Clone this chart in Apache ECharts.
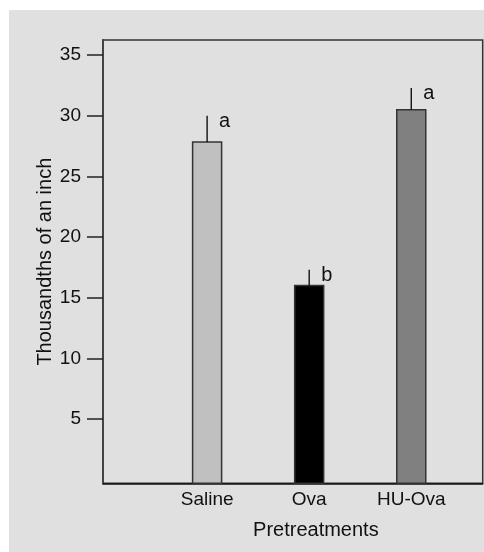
<!DOCTYPE html>
<html>
<head>
<meta charset="utf-8">
<script src="https://cdn.jsdelivr.net/npm/echarts@6/dist/echarts.min.js"></script>
<style>
html,body{margin:0;padding:0;background:#fff;}
#chart{width:484px;height:552px;}
</style>
</head>
<body>
<div id="chart"></div>
<script>
var categories = ['Saline', 'Ova', 'HU-Ova'];
var positions = [1, 2, 3];
var means = [27.85, 16.0, 30.5];
var errTops = [30.0, 17.3, 32.3];
var letters = ['a', 'b', 'a'];
var barColors = ['#c0c0c0', '#000000', '#808080'];
var yTicks = [5, 10, 15, 20, 25, 30, 35];

var FONT = '"Liberation Sans", Arial, sans-serif';
var Y_MIN = -0.3, Y_MAX = 36.25;
var BAR_W = 29;

var barData = positions.map(function (p, i) { return [p, means[i], i]; });
var errData = positions.map(function (p, i) { return [p, means[i], errTops[i], i]; });

var chart = echarts.init(document.getElementById('chart'), null, { renderer: 'canvas' });
chart.setOption({
  animation: false,
  backgroundColor: '#ffffff',
  graphic: [{
    type: 'rect', z: -10, silent: true,
    shape: { x: 9, y: 10, width: 475, height: 542 },
    style: { fill: '#e0e0e0' }
  }],
  grid: {
    left: 103, top: 40, right: 1.3, bottom: 68.7,
    show: true, borderColor: '#333', borderWidth: 1.5,
    backgroundColor: 'transparent'
  },
  xAxis: {
    type: 'value', min: -0.02, max: 3.7,
    splitLine: { show: false },
    axisLine: { show: true, onZero: false, lineStyle: { color: '#111', width: 1.5 } },
    axisTick: { show: false },
    axisLabel: {
      customValues: positions,
      formatter: function (v) {
        var i = positions.indexOf(v);
        return i >= 0 ? categories[i] : '';
      },
      color: '#111', fontFamily: FONT, fontSize: 19, margin: 7
    },
    name: 'Pretreatments', nameLocation: 'middle', nameGap: 37, nameMoveOverlap: false,
    nameTextStyle: { color: '#111', fontFamily: FONT, fontSize: 20, padding: [0, 0, 0, 46] }
  },
  yAxis: {
    type: 'value', min: Y_MIN, max: Y_MAX,
    splitLine: { show: false },
    axisLine: { show: true, onZero: false, lineStyle: { color: '#444', width: 2 } },
    axisTick: { show: true, inside: false, length: 16, customValues: yTicks, lineStyle: { color: '#222', width: 1.5 } },
    axisLabel: { customValues: yTicks, color: '#111', fontFamily: FONT, fontSize: 19, margin: 22 },
    name: 'Thousandths of an inch', nameLocation: 'middle', nameGap: 48, nameMoveOverlap: false,
    nameTextStyle: { color: '#111', fontFamily: FONT, fontSize: 20 }
  },
  series: [
    {
      type: 'custom', data: barData, z: 3,
      renderItem: function (params, api) {
        var top = api.coord([api.value(0), api.value(1)]);
        var base = api.coord([api.value(0), Y_MIN]);
        var idx = api.value(2);
        return {
          type: 'rect',
          shape: { x: top[0] - BAR_W / 2, y: top[1], width: BAR_W, height: base[1] - top[1] },
          style: { fill: barColors[idx], stroke: '#333', lineWidth: 1.5 }
        };
      }
    },
    {
      type: 'custom', data: errData, z: 5,
      renderItem: function (params, api) {
        var base = api.coord([api.value(0), api.value(1)]);
        var top = api.coord([api.value(0), api.value(2)]);
        var idx = api.value(3);
        return {
          type: 'group',
          children: [
            { type: 'line', shape: { x1: base[0], y1: base[1], x2: top[0], y2: top[1] },
              style: { stroke: '#000', lineWidth: 1.3 } },
            { type: 'text', x: top[0] + 12, y: top[1] + 6,
              style: { text: letters[idx], fill: '#111', font: '20px ' + FONT,
                       textAlign: 'left', textVerticalAlign: 'middle' } }
          ]
        };
      }
    }
  ]
});
</script>
</body>
</html>
